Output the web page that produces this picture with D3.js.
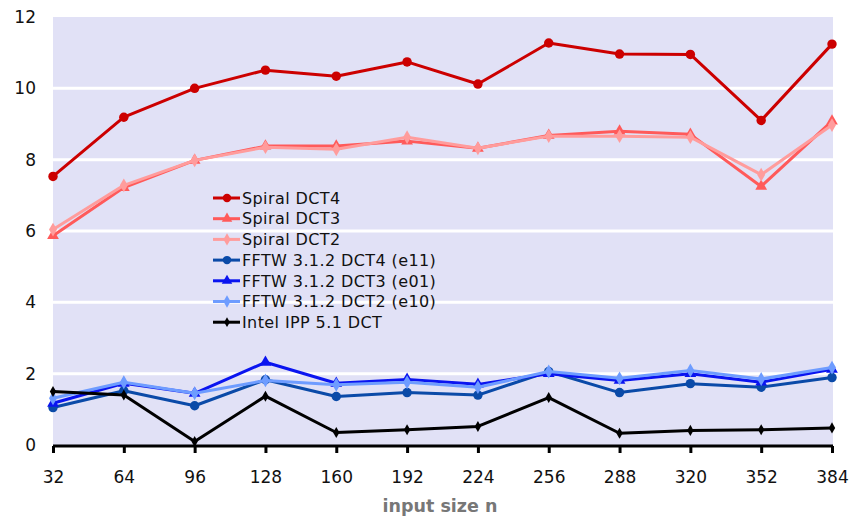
<!DOCTYPE html>
<html>
<head>
<meta charset="utf-8">
<script src="https://cdn.jsdelivr.net/npm/d3@7"></script>
<style>
  body { margin: 0; background: #fff; }
  text { font-family: "DejaVu Sans", Verdana, sans-serif; }
</style>
</head>
<body>
<svg id="chart" width="850" height="518"></svg>
<script>
// input sizes
const sizes = [32, 64, 96, 128, 160, 192, 224, 256, 288, 320, 352, 384];
const yTicks = [0, 2, 4, 6, 8, 10, 12];

const spiralDct4 = [7.53, 9.19, 10.0, 10.51, 10.34, 10.74, 10.12, 11.27, 10.96, 10.95, 9.1, 11.24];
const spiralDct3 = [5.87, 7.22, 7.98, 8.38, 8.38, 8.52, 8.32, 8.68, 8.8, 8.71, 7.25, 9.08];
const spiralDct2 = [6.04, 7.28, 7.98, 8.35, 8.29, 8.63, 8.32, 8.66, 8.66, 8.63, 7.58, 8.97];
const fftwDct4 = [1.05, 1.52, 1.1, 1.83, 1.36, 1.47, 1.4, 2.06, 1.47, 1.72, 1.62, 1.89];
const fftwDct3 = [1.17, 1.73, 1.45, 2.32, 1.73, 1.84, 1.7, 2.0, 1.81, 2.0, 1.76, 2.12];
const fftwDct2 = [1.31, 1.76, 1.45, 1.81, 1.69, 1.76, 1.62, 2.06, 1.87, 2.09, 1.85, 2.17];
const intelIpp = [1.5, 1.4, 0.1, 1.37, 0.35, 0.43, 0.52, 1.33, 0.33, 0.41, 0.43, 0.48];

const series = [
    {name: "Spiral DCT4", values: spiralDct4, color: "#cc0000", sym: d3.symbolCircle, size: 70},
    {name: "Spiral DCT3", values: spiralDct3, color: "#ff5a5a", sym: d3.symbolTriangle, size: 60},
    {name: "Spiral DCT2", values: spiralDct2, color: "#ff9c9c", sym: d3.symbolDiamond, size: 55},
    {name: "FFTW 3.1.2 DCT4 (e11)", values: fftwDct4, color: "#0a4aa8", sym: d3.symbolCircle, size: 70},
    {name: "FFTW 3.1.2 DCT3 (e01)", values: fftwDct3, color: "#0a14f0", sym: d3.symbolTriangle, size: 60},
    {name: "FFTW 3.1.2 DCT2 (e10)", values: fftwDct2, color: "#6e9cff", sym: d3.symbolDiamond, size: 55},
    {name: "Intel IPP 5.1 DCT", values: intelIpp, color: "#000000", sym: d3.symbolDiamond, size: 35}
];

const svg = d3.select("#chart");
const plotLeft = 53, plotRight = 833, plotTop = 17, plotBottom = 445;

let x = d3.scaleLinear().domain([32, 384]).range([plotLeft, plotRight - 1]);
let y = d3.scaleLinear().domain([0, 12]).range([plotBottom, plotTop]);

// plot background
svg.append("rect")
    .attr("x", plotLeft)
    .attr("y", plotTop)
    .attr("width", plotRight - plotLeft)
    .attr("height", plotBottom - plotTop)
    .attr("fill", "#e1e1f6");

// white grid lines
svg.append("g")
    .selectAll("line")
    .data(yTicks.filter(d => d > 0 && d < 12))
    .enter()
    .append("line")
    .attr("x1", plotLeft)
    .attr("x2", plotRight)
    .attr("y1", d => y(d))
    .attr("y2", d => y(d))
    .attr("stroke", "#fff")
    .attr("stroke-width", 3);

// y labels
svg.append("g")
    .selectAll("text")
    .data(yTicks)
    .enter()
    .append("text")
    .attr("x", 36)
    .attr("y", d => y(d))
    .attr("dy", "0.36em")
    .attr("text-anchor", "end")
    .attr("font-size", 17)
    .attr("fill", "#111")
    .text(d => d);

// x axis
let xAxis = d3.axisBottom(x)
    .tickValues(sizes)
    .tickSize(7)
    .tickPadding(18)
    .tickFormat(d => d);
let axisG = svg.append("g")
    .attr("transform", "translate(0," + (plotBottom + 1) + ")")
    .call(xAxis);
axisG.select(".domain")
    .attr("d", "M" + plotLeft + ",0H" + plotRight)
    .attr("stroke", "#000")
    .attr("stroke-width", 3);
axisG.selectAll(".tick line")
    .attr("stroke", "#000")
    .attr("stroke-width", 3);
axisG.selectAll(".tick text")
    .attr("font-family", "DejaVu Sans, Verdana, sans-serif")
    .attr("font-size", 17)
    .attr("fill", "#111");

svg.append("text")
    .attr("x", 440)
    .attr("y", 512)
    .attr("text-anchor", "middle")
    .attr("font-size", 17.5)
    .attr("font-weight", "bold")
    .attr("fill", "#777")
    .text("input size n");

// lines and markers
let line = d3.line()
    .x((d, i) => x(sizes[i]))
    .y(d => y(d));

let linesG = svg.append("g").attr("id", "linesG");
series.forEach(function (s) {
    let g = linesG.append("g");
    g.append("path")
        .attr("d", line(s.values))
        .attr("fill", "none")
        .attr("stroke", s.color)
        .attr("stroke-width", 3)
        .attr("stroke-linejoin", "round");
    g.selectAll("path.mark")
        .data(s.values)
        .enter()
        .append("path")
        .attr("class", "mark")
        .attr("d", d3.symbol().type(s.sym).size(s.size))
        .attr("transform", (d, i) => "translate(" + x(sizes[i]) + "," + y(d) + ")")
        .attr("fill", s.color);
});

// legend
let legend = svg.append("g").attr("transform", "translate(213,198)");
let rows = legend.selectAll("g")
    .data(series)
    .enter()
    .append("g")
    .attr("transform", (d, i) => "translate(0," + (i * 20.7) + ")");
rows.append("line")
    .attr("x1", 0)
    .attr("x2", 27)
    .attr("stroke", d => d.color)
    .attr("stroke-width", 3);
rows.append("path")
    .attr("d", d => d3.symbol().type(d.sym).size(d.size * 0.8)())
    .attr("transform", "translate(14,0)")
    .attr("fill", d => d.color);
rows.append("text")
    .attr("x", 29)
    .attr("dy", "0.36em")
    .attr("font-size", 16)
    .attr("letter-spacing", 0.4)
    .attr("fill", "#111")
    .text(d => d.name);
</script>
</body>
</html>
